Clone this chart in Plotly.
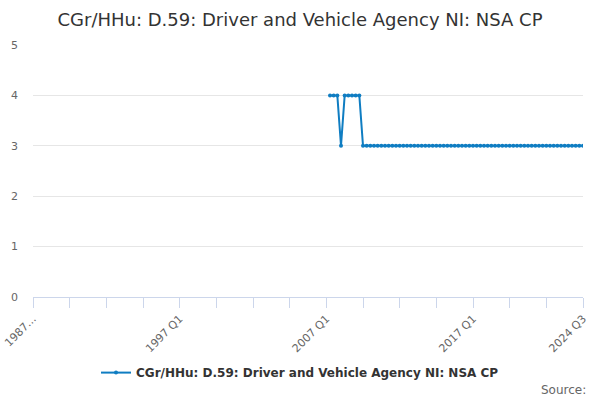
import plotly.graph_objects as go

# quarterly periods shown on the axis (1987 Q1 .. 2024 Q3)
periods = [f"{y} Q{q}" for y in range(1987, 2025) for q in range(1, 5)]
periods = periods[: periods.index("2024 Q3") + 1]

# observed data starts in 2007 Q2
data_periods = periods[periods.index("2007 Q2"):]
values = [
    4, 4, 4,     # 2007 Q2-Q4
    3, 4, 4, 4,  # 2008
    4, 4, 3, 3,  # 2009
    3, 3, 3, 3,  # 2010
    3, 3, 3, 3,
    3, 3, 3, 3,
    3, 3, 3, 3,
    3, 3, 3, 3,
    3, 3, 3, 3,  # 2015
    3, 3, 3, 3,
    3, 3, 3, 3,
    3, 3, 3, 3,
    3, 3, 3, 3,
    3, 3, 3, 3,  # 2020
    3, 3, 3, 3,
    3, 3, 3, 3,
    3, 3, 3, 3,
    3, 3, 3,     # 2024
]

tick_labels = {
    "1987 Q1": "1987…",
    "1997 Q1": "1997 Q1",
    "2007 Q1": "2007 Q1",
    "2017 Q1": "2017 Q1",
    "2024 Q3": "2024 Q3",
}
series_name = "CGr/HHu: D.59: Driver and Vehicle Agency NI: NSA CP"

tickvals = periods[::10]
ticktext = [tick_labels.get(p, "") for p in tickvals]

fig = go.Figure()
fig.add_trace(
    go.Scatter(
        x=data_periods,
        y=values,
        name=series_name,
        mode="lines+markers",
        line=dict(color="#0f7dc2", width=2),
        marker=dict(color="#0f7dc2", size=4),
    )
)

fig.update_layout(
    width=600,
    height=400,
    margin=dict(l=33, r=17, t=45, b=103, autoexpand=False),
    paper_bgcolor="white",
    plot_bgcolor="white",
    font=dict(family="DejaVu Sans", color="#666666", size=11),
    title=dict(
        text="CGr/HHu: D.59: Driver and Vehicle Agency NI: NSA CP",
        x=0.5,
        xanchor="center",
        y=0.95,
        yanchor="middle",
        font=dict(size=18, color="#333333"),
    ),
    showlegend=True,
    legend=dict(
        orientation="h",
        x=0.4855,
        xanchor="center",
        y=-0.30,
        yanchor="middle",
        itemwidth=30,
        font=dict(size=12, color="#333333", weight="bold"),
    ),
    xaxis=dict(
        type="category",
        categoryorder="array",
        categoryarray=periods,
        range=[0, len(periods) - 1],
        automargin=False,
        tickmode="array",
        tickvals=tickvals,
        ticktext=ticktext,
        tickangle=-45,
        ticks="outside",
        ticklen=10,
        tickcolor="#ccd6eb",
        showline=True,
        linecolor="#ccd6eb",
        showgrid=False,
        zeroline=False,
        tickfont=dict(size=11, color="#666666"),
    ),
    yaxis=dict(
        range=[0, 5],
        dtick=1,
        automargin=False,
        showgrid=True,
        gridcolor="#e6e6e6",
        zeroline=False,
        showline=False,
        ticks="",
        ticklabelstandoff=14,
        tickfont=dict(size=11, color="#666666"),
    ),
    annotations=[
        dict(
            text="Source:",
            xref="paper",
            yref="paper",
            x=1.009,
            y=-0.369,
            xanchor="right",
            yanchor="middle",
            showarrow=False,
            font=dict(size=12, color="#666666"),
        )
    ],
)

# drop the default 8px body margin so the 600x400 figure fills the window
fig.write_html(
    "out.html",
    config={"displayModeBar": False},
    post_script="document.body.style.margin='0px';document.body.style.overflow='hidden';",
)
